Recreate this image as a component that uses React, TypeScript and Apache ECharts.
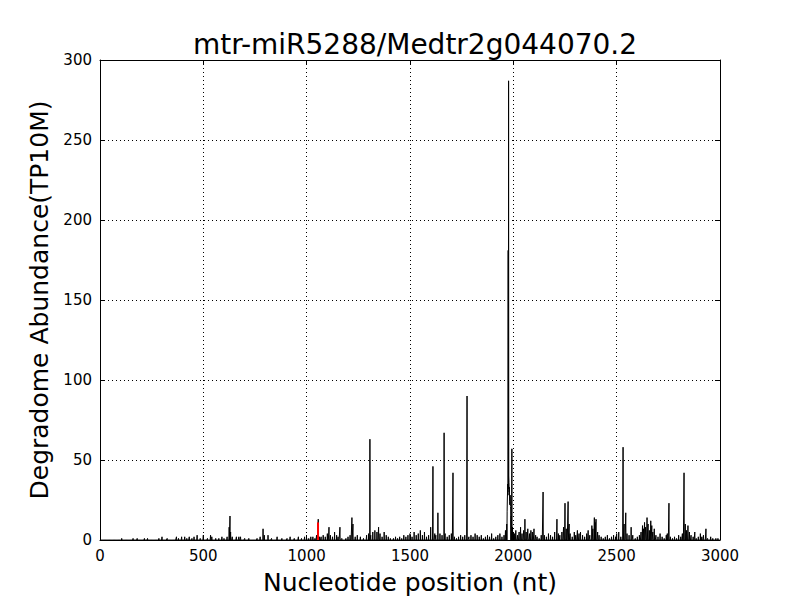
import React, { useEffect, useRef } from "react";
import * as echarts from "echarts";

const TITLE = "mtr-miR5288/Medtr2g044070.2";
const X_LABEL = "Nucleotide position (nt)";
const Y_LABEL = "Degradome Abundance(TP10M)";
const X_MAX = 3000;
const Y_MAX = 300;

// Non-zero degradome abundance positions (nt) and values (TP10M)
const positions = [
  105, 160, 180, 215, 230, 285, 300, 325, 370, 380, 395, 410, 420, 432, 445, 455, 470, 485, 500, 520,
  535, 541, 560, 575, 590, 600, 615, 625, 629, 632, 640, 660, 672, 680, 700, 720, 760, 775, 789, 795,
  813, 830, 857, 880, 905, 920, 940, 960, 975, 990, 1000, 1010, 1020, 1030, 1040, 1048, 1056, 1062, 1070, 1080,
  1090, 1100, 1108, 1115, 1125, 1135, 1145, 1152, 1161, 1170, 1190, 1200, 1210, 1219, 1224, 1235, 1245, 1260, 1275, 1290,
  1300, 1306, 1310, 1320, 1330, 1340, 1348, 1355, 1365, 1375, 1385, 1395, 1405, 1420, 1430, 1440, 1450, 1460, 1470, 1480,
  1490, 1500, 1510, 1520, 1530, 1540, 1550, 1560, 1570, 1580, 1590, 1600, 1611, 1620, 1625, 1635, 1645, 1655, 1665, 1670,
  1680, 1690, 1700, 1708, 1715, 1725, 1735, 1745, 1755, 1765, 1776, 1785, 1795, 1805, 1815, 1825, 1835, 1845, 1855, 1865,
  1875, 1885, 1895, 1905, 1915, 1925, 1935, 1945, 1955, 1962, 1968, 1970, 1971, 1972, 1973, 1974, 1975, 1976, 1977, 1978,
  1979, 1980, 1981, 1982, 1983, 1984, 1985, 1986, 1987, 1989, 1990, 1993, 1996, 2000, 2005, 2012, 2020, 2028, 2035, 2042,
  2050, 2056, 2062, 2070, 2078, 2085, 2092, 2100, 2108, 2115, 2125, 2135, 2144, 2150, 2160, 2170, 2180, 2190, 2200, 2211,
  2218, 2225, 2235, 2243, 2250, 2256, 2265, 2270, 2275, 2285, 2295, 2302, 2310, 2318, 2325, 2335, 2345, 2355, 2362, 2370,
  2380, 2385, 2392, 2396, 2400, 2408, 2415, 2425, 2435, 2445, 2455, 2465, 2475, 2485, 2495, 2500, 2510, 2520, 2531, 2536,
  2544, 2550, 2560, 2570, 2578, 2590, 2600, 2610, 2618, 2625, 2630, 2635, 2640, 2647, 2652, 2658, 2665, 2670, 2675, 2682,
  2690, 2700, 2710, 2720, 2730, 2740, 2745, 2753, 2760, 2770, 2780, 2790, 2800, 2810, 2818, 2826, 2832, 2838, 2845, 2852,
  2860, 2870, 2878, 2885, 2895, 2905, 2912, 2920, 2932, 2940, 2955, 2965, 2980, 2990,
];
const values = [
  1, 1, 1, 1, 1, 1, 2, 1, 2, 1, 2, 2, 1, 2, 1, 2, 3, 1, 3, 1,
  3, 2, 1, 1, 2, 1, 2, 8, 15, 5, 2, 2, 2, 2, 1, 1, 1, 2, 7, 3,
  3, 1, 2, 1, 1, 2, 1, 2, 1, 2, 1, 1, 2, 2, 1, 3, 13, 2, 2, 3,
  2, 4, 8, 3, 2, 5, 3, 2, 8, 1, 1, 2, 3, 14, 10, 2, 3, 2, 1, 3,
  4, 63, 3, 5, 6, 5, 8, 4, 2, 5, 3, 2, 1, 1, 2, 1, 2, 1, 3, 2,
  3, 4, 2, 5, 3, 4, 6, 3, 5, 2, 3, 8, 46, 4, 3, 17, 4, 3, 67, 4,
  2, 3, 4, 42, 2, 1, 2, 3, 2, 3, 90, 2, 3, 2, 4, 3, 2, 3, 1, 2,
  3, 2, 4, 1, 2, 3, 4, 2, 3, 6, 10, 18, 25, 30, 35, 28, 181, 32, 287, 40,
  36, 30, 33, 24, 22, 27, 28, 21, 20, 12, 15, 57, 8, 5, 4, 6, 3, 5, 8, 4,
  6, 13, 5, 7, 4, 6, 5, 7, 3, 2, 1, 3, 30, 3, 2, 4, 3, 2, 5, 13,
  4, 3, 5, 8, 23, 7, 24, 10, 4, 2, 5, 3, 6, 4, 5, 3, 2, 4, 6, 3,
  9, 7, 14, 11, 13, 5, 3, 2, 1, 2, 3, 1, 2, 3, 2, 4, 5, 2, 58, 10,
  17, 4, 3, 8, 3, 1, 2, 3, 5, 9, 7, 11, 8, 14, 10, 6, 12, 9, 5, 7,
  3, 2, 4, 2, 1, 3, 4, 23, 2, 1, 2, 1, 3, 2, 4, 42, 10, 6, 9, 5,
  3, 2, 5, 1, 2, 4, 2, 3, 7, 1, 2, 1, 1, 1,
];

// Cleavage site highlighted in red
const cleavagePos = 1055;
const cleavageValue = 11;

export default function App() {
  const ref = useRef<HTMLDivElement>(null);

  useEffect(() => {
    if (!ref.current) return;
    const chart = echarts.init(ref.current, undefined, { renderer: "svg" });

    const full: number[] = new Array(X_MAX + 1).fill(0);
    positions.forEach((p, i) => {
      full[p] = values[i];
    });
    const lineData = full.map((v, i) => [i, v]);

    const font = "DejaVu Sans";
    const dotted = { color: "#000", width: 1, type: [1, 3] as number[] };
    const plain = (v: number) => String(v);

    chart.setOption({
      animation: false,
      backgroundColor: "#fff",
      title: {
        text: TITLE,
        left: 410,
        top: 25,
        textAlign: "center",
        textStyle: { fontFamily: font, fontSize: 28, fontWeight: "normal", color: "#000" },
      },
      grid: { left: 100, right: 80, top: 60, bottom: 60, containLabel: false },
      xAxis: [
        {
          type: "value",
          min: 0,
          max: X_MAX,
          interval: 500,
          name: X_LABEL,
          nameLocation: "middle",
          nameGap: 30,
          nameTextStyle: { fontFamily: font, fontSize: 25, color: "#000", verticalAlign: "top" },
          axisLine: { show: true, onZero: false, lineStyle: { color: "#000", width: 1 } },
          axisTick: { show: true, inside: true, length: 5, lineStyle: { color: "#000" } },
          axisLabel: { fontFamily: font, fontSize: 15, color: "#000", margin: 8, formatter: plain },
          splitLine: { show: true, lineStyle: dotted },
        },
        {
          type: "value",
          position: "top",
          min: 0,
          max: X_MAX,
          interval: 500,
          axisLine: { show: true, onZero: false, lineStyle: { color: "#000", width: 1 } },
          axisTick: { show: true, inside: true, length: 5, lineStyle: { color: "#000" } },
          axisLabel: { show: false },
          splitLine: { show: false },
        },
      ],
      yAxis: [
        {
          type: "value",
          min: 0,
          max: Y_MAX,
          interval: 50,
          name: Y_LABEL,
          nameLocation: "middle",
          nameGap: 38,
          nameTextStyle: { fontFamily: font, fontSize: 25, color: "#000" },
          axisLine: { show: true, onZero: false, lineStyle: { color: "#000", width: 1 } },
          axisTick: { show: true, inside: true, length: 5, lineStyle: { color: "#000" } },
          axisLabel: { fontFamily: font, fontSize: 15, color: "#000", margin: 8, formatter: plain },
          splitLine: { show: true, lineStyle: dotted },
        },
        {
          type: "value",
          position: "right",
          min: 0,
          max: Y_MAX,
          interval: 50,
          axisLine: { show: true, onZero: false, lineStyle: { color: "#000", width: 1 } },
          axisTick: { show: true, inside: true, length: 5, lineStyle: { color: "#000" } },
          axisLabel: { show: false },
          splitLine: { show: false },
        },
      ],
      series: [
        {
          type: "line",
          data: lineData,
          showSymbol: false,
          symbol: "none",
          lineStyle: { color: "#000", width: 1 },
          z: 2,
        },
        {
          type: "line",
          data: [
            [cleavagePos, 0],
            [cleavagePos, cleavageValue],
          ],
          showSymbol: false,
          symbol: "none",
          lineStyle: { color: "#ff0000", width: 2 },
          z: 3,
        },
      ],
    });

    return () => chart.dispose();
  }, []);

  return <div ref={ref} style={{ width: 800, height: 600, position: "absolute", left: 0, top: 0 }} />;
}
